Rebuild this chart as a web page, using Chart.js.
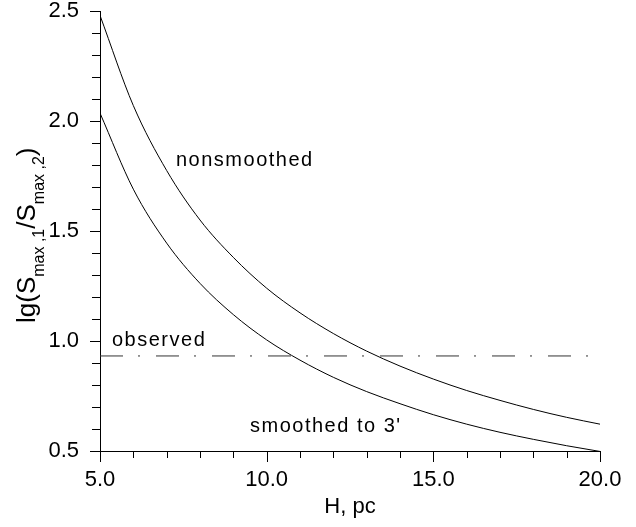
<!DOCTYPE html>
<html>
<head>
<meta charset="utf-8">
<script src="https://cdn.jsdelivr.net/npm/chart.js@4/dist/chart.umd.min.js"></script>
<style>
  html, body { margin: 0; padding: 0; background: #fff; }
  #wrap { width: 636px; height: 527px; }
</style>
</head>
<body>
<div id="wrap"><canvas id="chart" width="636" height="527"></canvas></div>
<script>
// H, pc
const hValues = [5, 6, 7, 8, 9, 10, 11, 12, 13, 14, 15, 16, 17, 18, 19, 20];
// lg(Smax,1/Smax,2)
const nonsmoothed = [2.48, 2.07, 1.775, 1.55, 1.38, 1.24, 1.128, 1.034, 0.954, 0.886, 0.827, 0.775, 0.73, 0.689, 0.653, 0.622];
const smoothed = [2.036, 1.69, 1.445, 1.262, 1.12, 1.005, 0.913, 0.835, 0.77, 0.715, 0.665, 0.622, 0.585, 0.553, 0.524, 0.498];
const observedLevel = 0.932;
const xRange = [5, 20];
const yRange = [0.5, 2.5];

const FONT = "'Liberation Sans', Arial, sans-serif";

const toPoints = (ys) => hValues.map((h, i) => ({ x: h, y: ys[i] }));

// text labels placed in data units
const notes = [
    { text: "nonsmoothed", x: 7.28, y: 1.795 },
    { text: "observed", x: 5.36, y: 0.977 },
    { text: "smoothed to 3'", x: 9.5, y: 0.586 },
];

const extras = {
    id: "extras",
    afterDraw(chart) {
        const ctx = chart.ctx;
        const xs = chart.scales.x;
        const ys = chart.scales.y;
        ctx.save();
        ctx.strokeStyle = "#000";
        ctx.lineWidth = 1;

        // tick marks, long on labelled values
        xs.ticks.forEach((t, i) => {
            const px = Math.round(xs.getPixelForTick(i)) + 0.5;
            const len = t.label ? 11 : 7;
            ctx.beginPath();
            ctx.moveTo(px, xs.top);
            ctx.lineTo(px, xs.top + len);
            ctx.stroke();
        });
        ys.ticks.forEach((t, i) => {
            const py = Math.round(ys.getPixelForTick(i)) + 0.5;
            const len = t.label ? 10 : 8;
            ctx.beginPath();
            ctx.moveTo(ys.right, py);
            ctx.lineTo(ys.right - len, py);
            ctx.stroke();
        });

        // curve names
        ctx.fillStyle = "#000";
        ctx.font = "20px " + FONT;
        ctx.letterSpacing = "1.5px";
        ctx.textBaseline = "alphabetic";
        ctx.textAlign = "left";
        notes.forEach((n) => {
            ctx.fillText(n.text, xs.getPixelForValue(n.x), ys.getPixelForValue(n.y));
        });
        ctx.letterSpacing = "0px";

        // y title with subscripts
        ctx.translate(35, 323);
        ctx.rotate(-Math.PI / 2);
        const parts = [
            ["lg(S", false], ["max ,1", true], ["/S", false], ["max ,2", true], [")", false],
        ];
        let cx = 0;
        parts.forEach(([s, sub]) => {
            ctx.font = (sub ? "16px " : "26px ") + FONT;
            ctx.fillText(s, cx, sub ? 9 : 0);
            cx += ctx.measureText(s).width;
        });
        ctx.restore();
    },
};

const ctx = document.getElementById("chart").getContext("2d");

new Chart(ctx, {
    type: "line",
    data: {
        datasets: [
            {
                label: "nonsmoothed",
                data: toPoints(nonsmoothed),
                borderColor: "#000",
                borderWidth: 1,
                pointRadius: 0,
                cubicInterpolationMode: "monotone",
            },
            {
                label: "smoothed to 3'",
                data: toPoints(smoothed),
                borderColor: "#000",
                borderWidth: 1,
                pointRadius: 0,
                cubicInterpolationMode: "monotone",
            },
            {
                label: "observed",
                data: [
                    { x: xRange[0], y: observedLevel },
                    { x: xRange[1], y: observedLevel },
                ],
                borderColor: "#333",
                borderWidth: 1,
                borderDash: [23, 15, 2, 16],
                pointRadius: 0,
            },
        ],
    },
    options: {
        responsive: false,
        animation: false,
        events: [],
        layout: { padding: { left: 0, right: 36, top: 11, bottom: 0 } },
        plugins: {
            legend: { display: false },
            tooltip: { enabled: false },
        },
        scales: {
            x: {
                type: "linear",
                min: xRange[0],
                max: xRange[1],
                afterFit: (s) => {
                    s.height = 76;
                    s.paddingLeft = 0;
                    s.paddingRight = 0;
                },
                border: { display: true, color: "#000", width: 1 },
                grid: { display: true, drawOnChartArea: false, drawTicks: true, tickLength: 11, tickColor: "rgba(0,0,0,0)" },
                ticks: {
                    stepSize: 1,
                    autoSkip: false,
                    maxRotation: 0,
                    padding: 5,
                    color: "#000",
                    font: { family: FONT, size: 22 },
                    callback: (v) => (v % 5 === 0 ? v.toFixed(1) : ""),
                },
                title: {
                    display: true,
                    text: "H, pc",
                    color: "#000",
                    font: { family: FONT, size: 22 },
                    padding: { top: 0, bottom: 7 },
                },
            },
            y: {
                type: "linear",
                min: yRange[0],
                max: yRange[1],
                afterFit: (s) => {
                    s.width = 100;
                    s.paddingTop = 0;
                    s.paddingBottom = 0;
                },
                border: { display: true, color: "#000", width: 1 },
                grid: { display: true, drawOnChartArea: false, drawTicks: true, tickLength: 10, tickColor: "rgba(0,0,0,0)" },
                ticks: {
                    stepSize: 0.1,
                    autoSkip: false,
                    padding: 11,
                    color: "#000",
                    font: { family: FONT, size: 22 },
                    callback: (v) => {
                        const r = Math.round(v * 2);
                        return Math.abs(v * 2 - r) < 1e-6 ? (r / 2).toFixed(1) : "";
                    },
                },
            },
        },
    },
    plugins: [extras],
});
</script>
</body>
</html>
